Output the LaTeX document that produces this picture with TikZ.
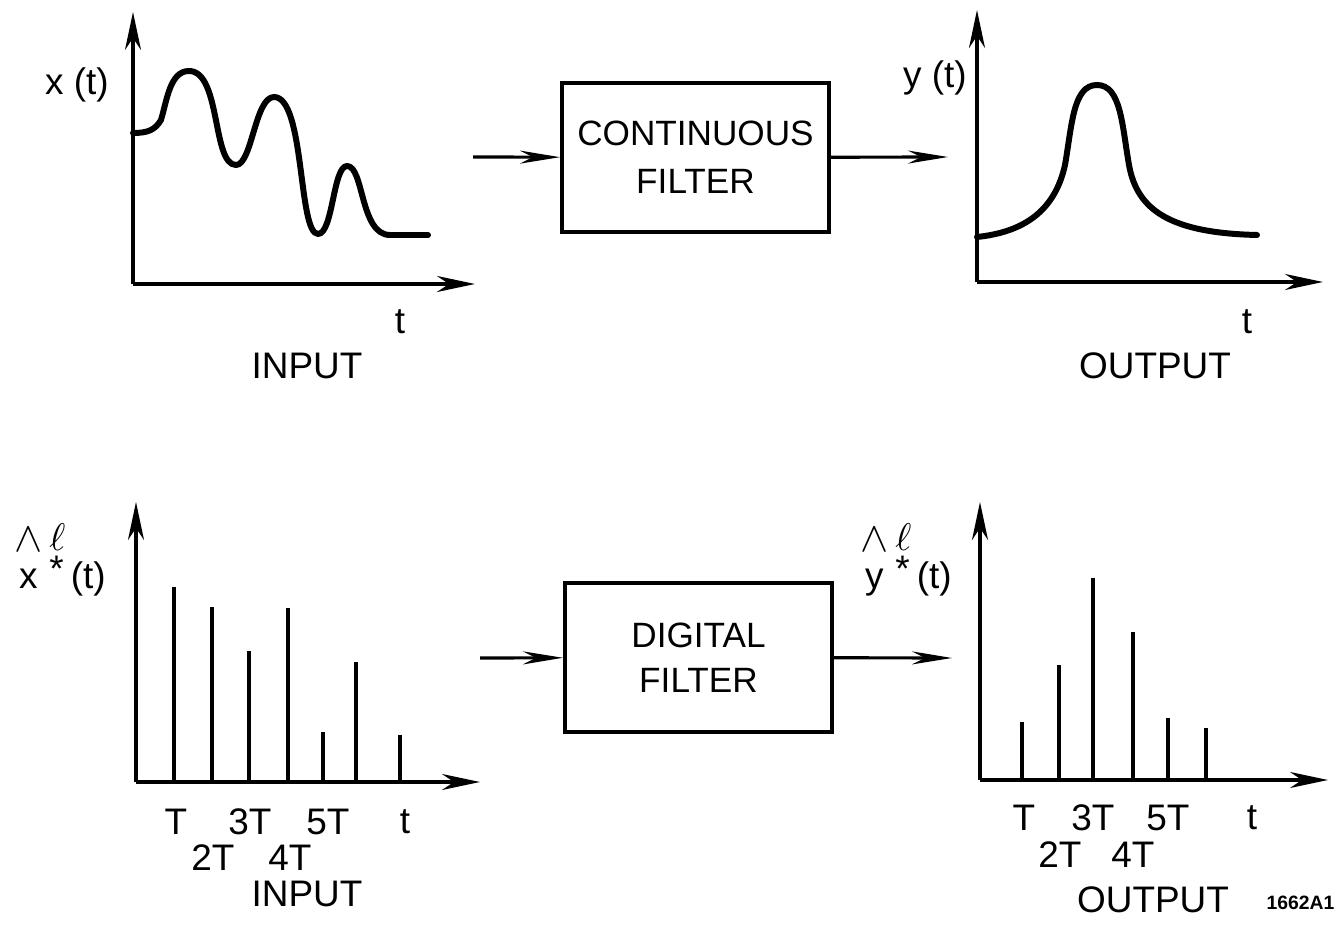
\documentclass[tikz,border=0pt]{standalone}
\usepackage{fontspec}
\setmainfont{Liberation Sans}
\usetikzlibrary{arrows.meta,positioning}

\begin{document}
\begin{tikzpicture}[x=0.01cm, y=-0.01cm,
    box/.style={rectangle, draw, line width=1.1pt, minimum width=2.67cm,
        minimum height=1.49cm, inner sep=0pt, align=center},
    arr/.style={-{Stealth[length=4mm, width=1.3mm, inset=1.3mm]}, line width=0.9pt},
    axis/.style={-{Stealth[length=3.8mm, width=1.6mm, inset=1.2mm]}, line width=1pt},
    sig/.style={line width=1.7pt, line cap=round, line join=round},
    stem/.style={line width=1.1pt},
    lbl/.style={font=\fontsize{10.5}{12}\selectfont, inner sep=0pt}
]
    \useasboundingbox (0,0) rectangle (1339,928);

    % === Top row: continuous filter ===
    \coordinate (inO) at (133,284);
    \coordinate (inX) at (475,284);
    \coordinate (inY) at (133,12);
    \draw[axis] (inO) -- (inX);
    \draw[axis] (inO) -- (inY);
    \draw[sig] (133,133) .. controls (148,133) and (155,130) .. (161,120)
        .. controls (167,100) and (170,71) .. (189,71)
        .. controls (221,71) and (212,165) .. (236,165)
        .. controls (252,165) and (255,97) .. (274,97)
        .. controls (305,97) and (298,234) .. (318,234)
        .. controls (333,234) and (333,166) .. (347,166)
        .. controls (364,166) and (360,235) .. (390,235) -- (428,235);
    \node[lbl] (xlab) at (77,85) {x (t)};
    \node[lbl] (tin) at (400,322) {t};
    \node[lbl] (inlab) at (307,366) {INPUT};

    \node[box, font=\fontsize{10}{13.6}\selectfont] (cbox) at (695.5,157.5) {CONTINUOUS\\FILTER};
    \coordinate (cin) at (473,157);
    \coordinate (cout) at (948,157);
    \draw[arr] (cin) -- (cbox);
    \draw[arr] (cbox) -- (cout);

    \coordinate (outO) at (977,282);
    \coordinate (outX) at (1323,282);
    \coordinate (outY) at (977,10);
    \draw[axis] (outO) -- (outX);
    \draw[axis] (outO) -- (outY);
    \draw[sig] (977,237) .. controls (1025,232) and (1055,210) .. (1065,165)
        .. controls (1072,125) and (1073,85) .. (1097,85)
        .. controls (1121,85) and (1122,125) .. (1129,165)
        .. controls (1137,210) and (1170,233) .. (1257,235);
    \node[lbl] (ylab) at (935,78) {y (t)};
    \node[lbl] (tout) at (1247,322) {t};
    \node[lbl] (outlab) at (1155,366) {OUTPUT};

    % === Bottom row: digital filter ===
    \coordinate (sinO) at (136,782);
    \coordinate (sinX) at (480,782);
    \coordinate (sinY) at (136,502);
    \draw[axis] (sinO) -- (sinX);
    \draw[axis] (sinO) -- (sinY);
    \foreach \x/\h in {174/587, 212/607, 249/651, 288/608, 323/732, 356/662, 400/735}
        \draw[stem] (\x,782) -- (\x,\h);
    \node[lbl] (xslab) at (60,560)
        {\shortstack{\large$\wedge$\\[2pt]x}\kern2pt\rlap{\raisebox{1.05em}{$\ell$}}\raisebox{0.2em}{*}\kern2pt(t)};
    \node[lbl] (sinT1) at (176,822) {T};
    \node[lbl] (sinT3) at (250,822) {3T};
    \node[lbl] (sinT5) at (328,822) {5T};
    \node[lbl] (sint) at (405,822) {t};
    \node[lbl] (sinT2) at (213,858) {2T};
    \node[lbl] (sinT4) at (290,858) {4T};
    \node[lbl] (sinlab) at (307,894) {INPUT};

    \node[box, font=\fontsize{10}{12.8}\selectfont] (dbox) at (698.5,657.5) {DIGITAL\\FILTER};
    \coordinate (din) at (480,658);
    \coordinate (dout) at (952,658);
    \draw[arr] (din) -- (dbox);
    \draw[arr] (dbox) -- (dout);

    \coordinate (soutO) at (980,780);
    \coordinate (soutX) at (1328,780);
    \coordinate (soutY) at (980,502);
    \draw[axis] (soutO) -- (soutX);
    \draw[axis] (soutO) -- (soutY);
    \foreach \x/\h in {1022/722, 1059/665, 1093/578, 1133/632, 1168/718, 1206/728}
        \draw[stem] (\x,780) -- (\x,\h);
    \node[lbl] (yslab) at (906,560)
        {\shortstack{\large$\wedge$\\[2pt]y}\kern2pt\rlap{\raisebox{1.05em}{$\ell$}}\raisebox{0.2em}{*}\kern2pt(t)};
    \node[lbl] (soutT1) at (1024,818) {T};
    \node[lbl] (soutT3) at (1093,818) {3T};
    \node[lbl] (soutT5) at (1168,818) {5T};
    \node[lbl] (soutt) at (1252,818) {t};
    \node[lbl] (soutT2) at (1060,855) {2T};
    \node[lbl] (soutT4) at (1133,855) {4T};
    \node[lbl] (soutlab) at (1153,900) {OUTPUT};

    \node[font=\fontsize{5.5}{6}\selectfont\bfseries, inner sep=0pt, anchor=east] (fig) at (1335,903) {1662A1};
\end{tikzpicture}
\end{document}
